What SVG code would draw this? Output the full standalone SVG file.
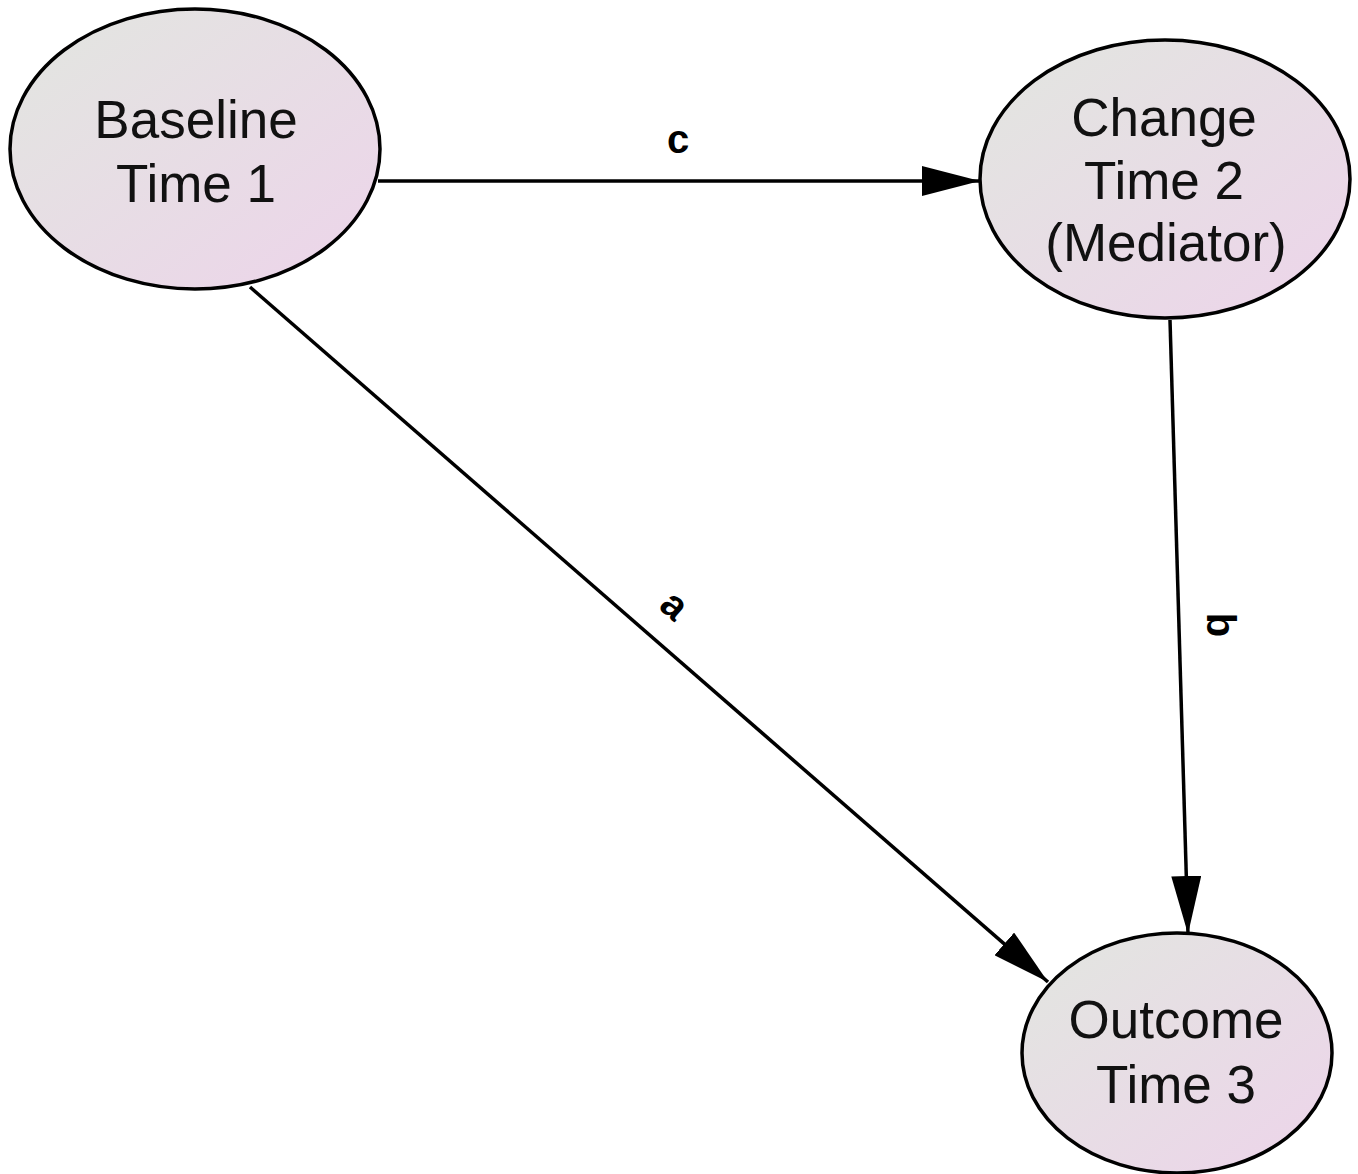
<svg xmlns="http://www.w3.org/2000/svg" width="1358" height="1174" viewBox="0 0 1358 1174">
<style>
.node{stroke:#000;stroke-width:3.5;fill:url(#g)}
.nt{font-family:"Liberation Sans",Arial,sans-serif;font-size:53px;fill:#111;text-anchor:middle}
.edge{stroke:#000;stroke-width:3.5;fill:none;marker-end:url(#arr)}
.lbl{font-family:"Liberation Sans",Arial,sans-serif;font-size:40px;font-weight:bold;fill:#000;text-anchor:middle}
</style>
<defs>
<linearGradient id="g" x1="0" y1="0" x2="1" y2="1">
<stop offset="0" stop-color="#e2e6e0"/>
<stop offset="1" stop-color="#edd4ea"/>
</linearGradient>
<marker id="arr" markerUnits="userSpaceOnUse" markerWidth="58" markerHeight="30" refX="58" refY="15" orient="auto">
<path d="M0,0 L58,15 L0,30 z" fill="#000"/>
</marker>
</defs>
<rect width="1358" height="1174" fill="#fff"/>
<g id="connectors">
<line class="edge" x1="378" y1="181" x2="980" y2="181"/>
<line class="edge" x1="1170" y1="320" x2="1188" y2="934"/>
<line class="edge" x1="250" y1="287" x2="1048" y2="982"/>
<text class="lbl" x="678" y="153">c</text>
<text class="lbl" transform="translate(1207,625) rotate(90)">b</text>
<text class="lbl" transform="translate(666,615) rotate(41)">a</text>
</g>
<g id="baseline">
<ellipse class="node" cx="195" cy="149" rx="185" ry="140"/>
<text class="nt" x="196" y="138">Baseline</text>
<text class="nt" x="196" y="202">Time 1</text>
</g>
<g id="change">
<ellipse class="node" cx="1165" cy="179" rx="185" ry="139"/>
<text class="nt" x="1164" y="136">Change</text>
<text class="nt" x="1164" y="199">Time 2</text>
<text class="nt" x="1166" y="261">(Mediator)</text>
</g>
<g id="outcome">
<ellipse class="node" cx="1177" cy="1053" rx="155" ry="120"/>
<text class="nt" x="1176" y="1038">Outcome</text>
<text class="nt" x="1176" y="1103">Time 3</text>
</g>
</svg>
